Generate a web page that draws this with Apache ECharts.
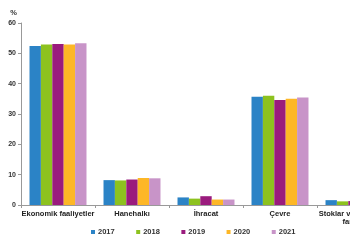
<!DOCTYPE html>
<html><head><meta charset="utf-8">
<script src="https://cdn.jsdelivr.net/npm/echarts@6/dist/echarts.min.js"></script>
<style>html,body{margin:0;padding:0;overflow:hidden;background:#fff;width:350px;height:250px}#c{width:400px;height:250px}</style>
</head><body><div id="c"></div>
<script>
const categories = ["Ekonomik faaliyetler", "Hanehalkı", "İhracat", "Çevre", "Stoklar ve istatistiki\nfarklar"];
const years = ["2017", "2018", "2019", "2020", "2021"];
const v2017 = [52.4, 8.2, 2.5, 35.7, 1.6];
const v2018 = [52.9, 8.1, 2.1, 36.0, 1.2];
const v2019 = [53.1, 8.4, 2.9, 34.6, 1.3];
const v2020 = [52.9, 8.9, 1.8, 35.0, 1.2];
const v2021 = [53.3, 8.8, 1.8, 35.4, 1.1];
const yTicks = [0, 10, 20, 30, 40, 50, 60];
const colors = ["#2B83C6", "#8DC21F", "#9A1B7D", "#FDB726", "#C894C8"];
const values = [v2017, v2018, v2019, v2020, v2021];
const font = "Liberation Sans, Arial, sans-serif";
const chart = echarts.init(document.getElementById('c'), null, {renderer: 'canvas'});
chart.setOption({
  animation: false,
  color: colors,
  grid: {left: 21, right: 9, top: 23, bottom: 45},
  legend: {
    data: years, left: 86, top: 223, itemWidth: 4, itemHeight: 4, itemGap: 21.5,
    icon: 'rect',
    textStyle: {fontSize: 7.5, fontWeight: 'bold', color: '#333', fontFamily: font, padding: [0,0,0,-2]}
  },
  xAxis: {
    type: 'category', data: categories,
    axisLine: {lineStyle: {color: '#999', width: 1}},
    axisTick: {show: true, length: 3, lineStyle: {color: '#999'}},
    axisLabel: {fontSize: 7.5, fontWeight: 'bold', color: '#222', fontFamily: font, margin: 5, lineHeight: 8, interval: 0}
  },
  yAxis: {
    type: 'value', min: 0, max: 60, interval: 10,
    name: '%', nameLocation: 'end', nameGap: 6,
    nameTextStyle: {fontSize: 7.5, fontWeight: 'bold', color: '#333', fontFamily: font, align: 'right', padding: [0, 4, 0, 0]},
    axisLine: {show: true, lineStyle: {color: '#999'}},
    axisTick: {show: true, length: 3, lineStyle: {color: '#999'}},
    splitLine: {show: false},
    axisLabel: {fontSize: 7, fontWeight: 'bold', color: '#333', fontFamily: font, margin: 5,
      formatter: v => yTicks.includes(v) ? String(v) : ''}
  },
  series: years.map((y, i) => ({
    name: y, type: 'bar', data: values[i], barGap: '0%', barCategoryGap: '23%',
    itemStyle: {color: colors[i]}
  }))
});
</script></body></html>
